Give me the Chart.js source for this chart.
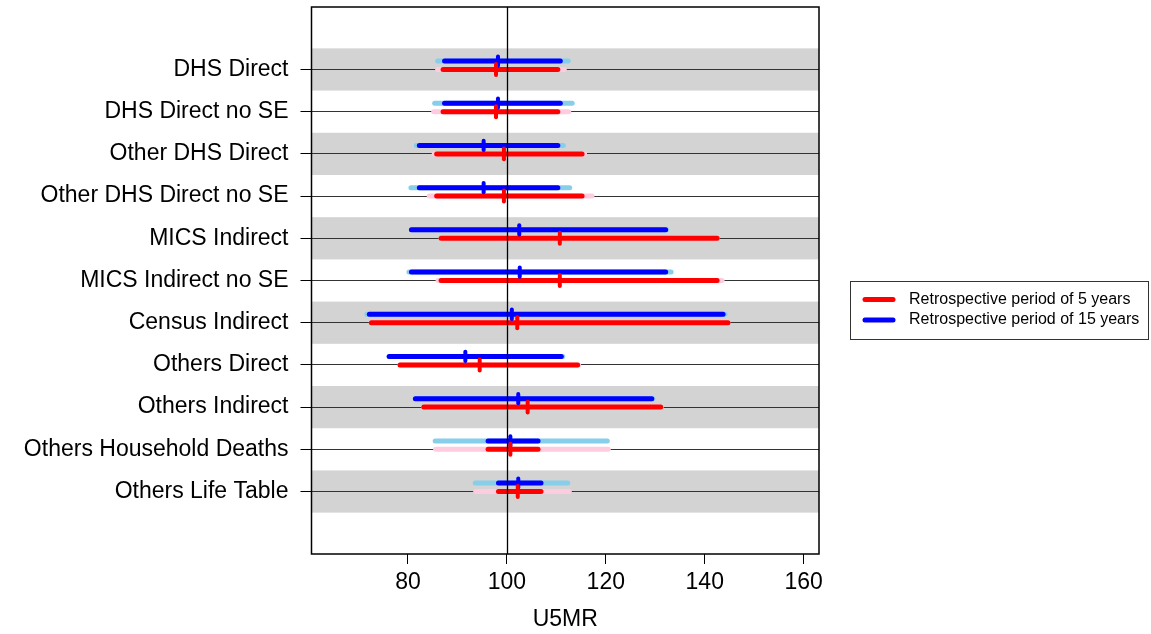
<!DOCTYPE html>
<html>
<head>
<meta charset="utf-8">
<script src="https://cdn.jsdelivr.net/npm/chart.js@4/dist/chart.umd.min.js"></script>
<style>
html,body{margin:0;padding:0;background:#fff;}
#wrap{width:1151px;height:634px;position:relative;}
</style>
</head>
<body>
<div id="wrap"><canvas id="c" width="1151" height="634"></canvas></div>
<script>
const categories = ['DHS Direct', 'DHS Direct no SE', 'Other DHS Direct', 'Other DHS Direct no SE',
  'MICS Indirect', 'MICS Indirect no SE', 'Census Indirect', 'Others Direct', 'Others Indirect',
  'Others Household Deaths', 'Others Life Table'];
const xTicks = [80, 100, 120, 140, 160];
const legendLabels = ['Retrospective period of 5 years', 'Retrospective period of 15 years'];

// 15-year retrospective period
const wide15Lo = [86.0, 85.4, 81.7, 80.6, 80.7, 80.2, 71.7, 76.2, 81.5, 85.5, 93.6];
const wide15Hi = [112.4, 113.2, 111.4, 112.7, 132.3, 133.2, 144.1, 111.3, 129.5, 120.3, 112.3];
const core15Lo = [87.4, 87.4, 82.3, 82.3, 80.7, 80.7, 72.2, 76.2, 81.5, 96.2, 98.3];
const core15Hi = [110.8, 110.8, 110.3, 110.3, 132.1, 132.1, 143.7, 111.0, 129.3, 106.3, 106.9];
const med15 = [98.2, 98.2, 95.3, 95.3, 102.5, 102.6, 101.0, 91.6, 102.3, 100.7, 102.3];

// 5-year retrospective period
const wide5Lo = [86.0, 85.2, 85.3, 84.3, 86.7, 86.1, 72.6, 78.4, 83.2, 85.6, 93.7];
const wide5Hi = [111.6, 112.5, 115.7, 117.2, 142.5, 143.5, 144.7, 114.5, 131.2, 120.5, 112.6];
const core5Lo = [87.1, 87.1, 85.8, 85.8, 86.7, 86.7, 72.6, 78.4, 83.2, 96.2, 98.3];
const core5Hi = [110.3, 110.3, 115.2, 115.2, 142.5, 142.5, 144.7, 114.3, 131.1, 106.3, 106.9];
const med5 = [97.8, 97.8, 99.4, 99.4, 110.7, 110.7, 102.1, 94.5, 104.2, 100.7, 102.2];

const N = categories.length;
const pos = categories.map((_, i) => N - i);   // top row at N
const OFF15 = 0.2;
const FONT = "'Liberation Sans', Arial, sans-serif";

const C_LB = '#87CEEB', C_B = '#0000FF', C_PK = '#FFCCDF', C_R = '#FF0000';

const datasets = [];
function seg(lo, hi, off, color, w) {
  for (let i = 0; i < N; i++) {
    datasets.push({
      data: [{x: lo[i], y: pos[i] + off}, {x: hi[i], y: pos[i] + off}],
      showLine: true, borderColor: color, borderWidth: w, borderCapStyle: 'round',
      pointRadius: 0, pointHoverRadius: 0, fill: false
    });
  }
}
function ticks(med, off, half, color, w) {
  for (let i = 0; i < N; i++) {
    datasets.push({
      data: [{x: med[i], y: pos[i] + off - half}, {x: med[i], y: pos[i] + off + half}],
      showLine: true, borderColor: color, borderWidth: w, borderCapStyle: 'round',
      pointRadius: 0, pointHoverRadius: 0, fill: false
    });
  }
}
seg(wide15Lo, wide15Hi, OFF15, C_LB, 5);
seg(core15Lo, core15Hi, OFF15, C_B, 5);
seg(wide5Lo, wide5Hi, 0, C_PK, 5);
seg(core5Lo, core5Hi, 0, C_R, 5);
ticks(med15, OFF15, 0.11, C_B, 4);
ticks(med5, 0, 0.13, C_R, 4);
// Chart.js paints dataset 0 last (on top); reverse so later pushes sit on top
datasets.reverse();

const bandPlugin = {
  id: 'bands',
  beforeDraw(chart) {
    const {ctx, chartArea: a, scales: {y}} = chart;
    ctx.save();
    ctx.fillStyle = '#D3D3D3';
    for (let i = 0; i < N; i += 2) {
      const t = y.getPixelForValue(pos[i] + 0.5), b = y.getPixelForValue(pos[i] - 0.5);
      ctx.fillRect(a.left, t, a.right - a.left, b - t);
    }
    ctx.restore();
  },
  afterDatasetsDraw(chart) {
    const {ctx, chartArea: a, scales: {x}} = chart;
    const px = Math.round(x.getPixelForValue(100)) + 0.5;
    ctx.save();
    ctx.strokeStyle = '#000'; ctx.lineWidth = 1.3;
    ctx.beginPath(); ctx.moveTo(px, a.top); ctx.lineTo(px, a.bottom); ctx.stroke();
    ctx.restore();
  },
  afterDraw(chart) {
    const {ctx, chartArea: a} = chart;
    ctx.save();
    ctx.strokeStyle = '#000'; ctx.lineWidth = 1.5;
    ctx.strokeRect(a.left, a.top, a.right - a.left, a.bottom - a.top);
    // legend
    const lx = 850, ly = 281, lw = 298, lh = 58;
    ctx.lineWidth = 1; ctx.strokeStyle = '#333';
    ctx.strokeRect(lx + 0.5, ly + 0.5, lw, lh);
    const cols = [C_R, C_B];
    ctx.font = '16px ' + FONT; ctx.fillStyle = '#000'; ctx.textBaseline = 'middle';
    for (let k = 0; k < 2; k++) {
      const yy = 299.5 + k * 20.5;
      ctx.strokeStyle = cols[k]; ctx.lineWidth = 5; ctx.lineCap = 'round';
      ctx.beginPath(); ctx.moveTo(865, yy); ctx.lineTo(893, yy); ctx.stroke();
      ctx.fillText(legendLabels[k], 909, yy);
    }
    ctx.restore();
  }
};

new Chart(document.getElementById('c'), {
  type: 'scatter',
  data: {datasets},
  options: {
    responsive: false, animation: false, devicePixelRatio: 1,
    layout: {padding: {top: 7, right: 332, left: 0, bottom: 0}},
    plugins: {legend: {display: false}, tooltip: {enabled: false}},
    scales: {
      x: {
        type: 'linear', min: 60.5, max: 163.1,
        afterBuildTicks: (s) => { s.ticks = xTicks.map(v => ({value: v})); },
        afterFit: (s) => { s.height = 80; s.paddingLeft = 0; s.paddingRight = 0; },
        border: {display: false},
        grid: {drawOnChartArea: false, drawTicks: true, tickLength: 10, tickColor: '#000', lineWidth: 1},
        ticks: {color: '#000', font: {family: FONT, size: 23}, padding: 5, maxRotation: 0},
        title: {display: true, text: 'U5MR', color: '#000', font: {family: FONT, size: 23}, padding: {top: 2, bottom: 1}}
      },
      y: {
        type: 'linear', min: -0.48, max: 12.48,
        afterBuildTicks: (s) => { s.ticks = pos.map(v => ({value: v})); },
        afterFit: (s) => { s.width = 311.5; s.paddingTop = 0; s.paddingBottom = 0; },
        border: {display: false},
        grid: {color: '#333', lineWidth: 1, drawTicks: true, tickLength: 11, tickColor: '#000'},
        ticks: {color: '#000', font: {family: FONT, size: 23}, padding: 12,
          callback: (v) => categories[N - v]}
      }
    }
  },
  plugins: [bandPlugin]
});
</script>
</body>
</html>
